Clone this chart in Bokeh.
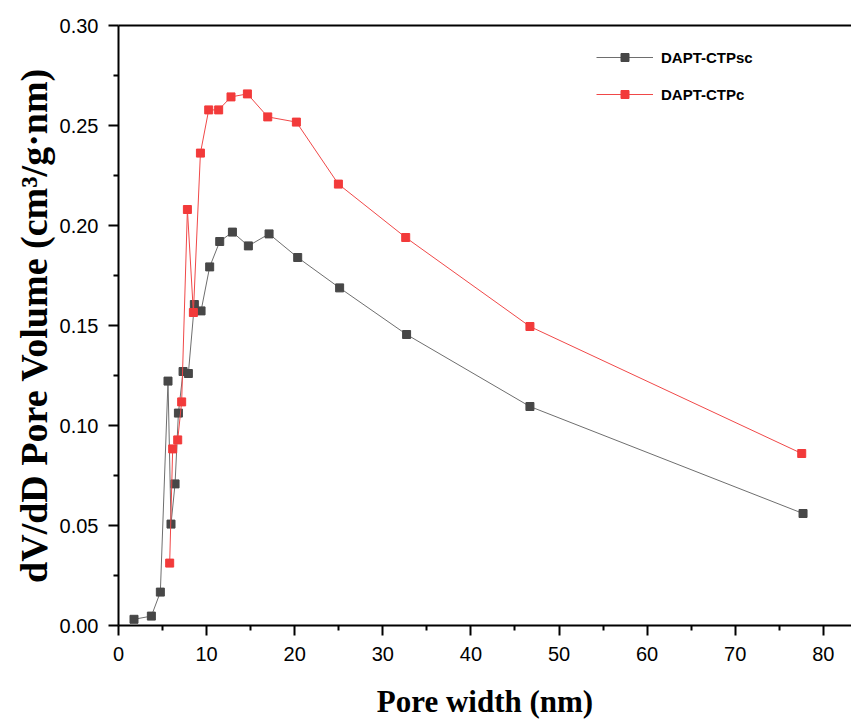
from bokeh.plotting import figure
from bokeh.models import (LinearAxis, Legend, LegendItem, Range1d, FixedTicker,
                          NumeralTickFormatter, ColumnDataSource)
from bokeh.embed import file_html
from bokeh.resources import INLINE

# Pore width (nm) and dV/dD (cm3/g·nm)
x_sc = [1.76, 3.73, 4.75, 5.62, 5.96, 6.42, 6.80, 7.33, 7.93, 8.61, 9.37, 10.35,
        11.49, 12.93, 14.74, 17.09, 20.34, 25.10, 32.70, 46.70, 77.70]
y_sc = [0.0031, 0.0047, 0.0167, 0.1222, 0.0507, 0.0708, 0.1062, 0.1270, 0.1260,
        0.1605, 0.1573, 0.1793, 0.1920, 0.1967, 0.1898, 0.1958, 0.1840, 0.1688,
        0.1455, 0.1095, 0.0560]
x_c = [5.81, 6.15, 6.72, 7.17, 7.82, 8.50, 9.30, 10.24, 11.37, 12.77, 14.63,
       16.94, 20.19, 24.96, 32.60, 46.70, 77.55]
y_c = [0.0312, 0.0883, 0.0928, 0.1118, 0.2080, 0.1565, 0.2362, 0.2578, 0.2578,
       0.2643, 0.2658, 0.2543, 0.2517, 0.2207, 0.1940, 0.1495, 0.0860]
names = ["DAPT-CTPsc", "DAPT-CTPc"]
x_ticks = [0, 10, 20, 30, 40, 50, 60, 70, 80]
y_ticks = [0.00, 0.05, 0.10, 0.15, 0.20, 0.25, 0.30]

p = figure(width=851, height=722, output_backend="svg", toolbar_location=None,
           x_range=Range1d(0, 83.2), y_range=Range1d(0, 0.30),
           min_border_left=118, min_border_right=0, min_border_top=25,
           min_border_bottom=97)
p.outline_line_color = None
p.grid.visible = False
p.background_fill_color = "white"

src1 = ColumnDataSource(dict(x=x_sc, y=y_sc))
src2 = ColumnDataSource(dict(x=x_c, y=y_c))
l1 = p.line("x", "y", source=src1, line_color="#6e6e6e", line_width=1)
m1 = p.scatter("x", "y", source=src1, marker="square", size=8,
               fill_color="#474747", line_color="#474747")
l2 = p.line("x", "y", source=src2, line_color="#f04848", line_width=1)
m2 = p.scatter("x", "y", source=src2, marker="square", size=8,
               fill_color="#f23a3a", line_color="#f23a3a")

font_tick = "Liberation Sans"
font_title = "Liberation Serif"

xa = p.xaxis[0]
xa.ticker = FixedTicker(ticks=x_ticks, minor_ticks=[v + 5 for v in x_ticks])
xa.axis_label = "Pore width (nm)"
ya = p.yaxis[0]
ya.ticker = FixedTicker(ticks=y_ticks, minor_ticks=[v + 0.025 for v in y_ticks[:-1]])
ya.formatter = NumeralTickFormatter(format="0.00")
ya.axis_label = "dV/dD Pore Volume (cm³/g·nm)"

for ax in (xa, ya):
    ax.axis_line_width = 2
    ax.axis_line_color = "black"
    ax.major_tick_line_width = 2
    ax.minor_tick_line_width = 2
    ax.major_tick_out = 10
    ax.major_tick_in = 0
    ax.minor_tick_out = 5
    ax.minor_tick_in = 0
    ax.major_label_text_font = font_tick
    ax.major_label_text_font_size = "20px"
    ax.major_label_text_color = "black"
    ax.axis_label_text_font = font_title
    ax.axis_label_text_font_style = "bold"
    ax.axis_label_text_color = "black"
xa.major_label_standoff = 11
xa.axis_label_standoff = 20
xa.axis_label_text_font_size = "31px"
ya.major_label_standoff = 10
ya.axis_label_text_font_size = "38px"
ya.axis_label_standoff = 2

top = LinearAxis(ticker=FixedTicker(ticks=[]), axis_line_width=2,
                 major_tick_out=0, minor_tick_out=0, major_label_text_font_size="0px")
p.add_layout(top, "above")

legend = Legend(items=[LegendItem(label=names[0], renderers=[l1, m1]),
                       LegendItem(label=names[1], renderers=[l2, m2])],
                location=(478, 521), orientation="vertical",
                border_line_color=None, background_fill_alpha=0,
                glyph_width=57, glyph_height=20, spacing=17, padding=10,
                label_standoff=8, label_text_font=font_tick,
                label_text_font_style="bold", label_text_font_size="15px",
                label_text_color="black")
p.add_layout(legend, "center")

open("out.html", "w").write(file_html(p, INLINE))
